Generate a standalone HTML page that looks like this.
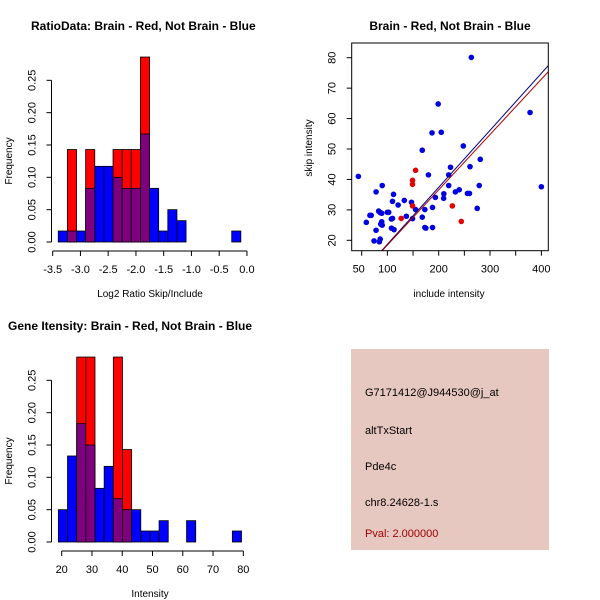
<!DOCTYPE html>
<html><head><meta charset="utf-8"><style>
body{margin:0;background:#fff}
svg{display:block;font-family:"Liberation Sans",Arial,sans-serif}
</style></head><body>
<svg id="s" width="600" height="600" viewBox="0 0 600 600">
<rect width="600" height="600" fill="#fff"/>
<g id="p1"></g>
<g id="p2"></g>
<g id="p3"></g>
<g>
<rect x="351" y="349" width="198" height="201" fill="#e6c8c0"/>
<text x="365" y="396" font-size="11">G7171412@J944530@j_at</text>
<text x="365" y="434" font-size="11">altTxStart</text>
<text x="365" y="470" font-size="11">Pde4c</text>
<text x="365" y="506" font-size="11">chr8.24628-1.s</text>
<text x="365" y="537" font-size="11" fill="#a00000">Pval: 2.000000</text>
</g>
</svg>
<script>
const NS="http://www.w3.org/2000/svg";
// Histogram 1 data
const h1Start=-3.4, h1Width=0.1645;
const h1Blue=[0.017,0.017,0.017,0.083,0.117,0.117,0.1,0.083,0.083,0.167,0.083,0.017,0.05,0.033,0,0,0,0,0,0.017];
const h1Red=[0,0.143,0,0.143,0,0,0.143,0.143,0.143,0.286,0,0,0,0,0,0,0,0,0,0];
const h1XTicks=[-3.5,-3.0,-2.5,-2.0,-1.5,-1.0,-0.5,0.0];
const h1XLabels=["-3.5","-3.0","-2.5","-2.0","-1.5","-1.0","-0.5","0.0"];
const yTicks=[0,0.05,0.10,0.15,0.20,0.25];
const yLabels=["0.00","0.05","0.10","0.15","0.20","0.25"];
// Histogram 2 data
const h2Start=18.9, h2Width=3.025;
const h2Blue=[0.05,0.133,0.183,0.15,0.083,0.117,0.067,0.05,0.05,0.017,0.017,0.033,0,0,0.033,0,0,0,0,0.017];
const h2Red=[0,0,0.286,0.286,0,0,0.286,0.143,0,0,0,0,0,0,0,0,0,0,0,0];
const h2XTicks=[20,30,40,50,60,70,80];
const h2XLabels=["20","30","40","50","60","70","80"];
// Scatter data
const blueX=[43.5,59,66,68.5,78,78,74,83,86,84.4,86,87,89,90,89,90,100,102.6,107.8,110,110,112,108,113,121,133,137,147,149,155,168,168,173,173,175,180,187,188,193.5,188,199,205,219.5,219.5,223,210,209.7,232.5,240,248,256,260,261,263.6,275,279,281,378,400];
const blueY=[41,25.9,28.2,28.2,35.9,23.3,19.8,29.6,29.1,19.5,20.4,25.3,26.1,25,28.9,38,29.2,29.2,27,27.2,32.8,35.1,24,23.5,31.6,33.1,27.9,32.5,27.1,30.1,49.6,27.6,30.1,24.2,24,41.5,55.3,30.8,34.1,24.2,64.8,55.5,41.5,38,44,35.3,33.8,35.9,36.6,51,35.4,35.4,44.2,80.1,30.5,38,46.6,62,37.6];
const redX=[127,149,149,155,149,226.6,244];
const redY=[27.2,39.7,38.4,43,31.3,31.3,26.2];
const blueFit=[-0.06,0.1873];
const redFit=[0.25,0.1817];
const sxTicks=[50,100,150,200,250,300,350,400];
const sxLabels=["50","100","","200","","300","","400"];
const syTicks=[20,30,40,50,60,70,80];
const syLabels=["20","30","40","50","60","70","80"];

function el(parent,tag,attrs){const e=document.createElementNS(NS,tag);for(const k in attrs)e.setAttribute(k,attrs[k]);parent.appendChild(e);return e;}
function txt(parent,x,y,s,attrs){const t=el(parent,"text",Object.assign({x:x,y:y,"font-size":11,"text-anchor":"middle"},attrs||{}));t.textContent=s;return t;}

function hist(g,o){
  const X=v=>o.x0+(v-o.v0)*o.kx, Y=v=>o.y0-v*o.ky;
  for(let i=0;i<o.blue.length;i++){
    const a=X(o.start+i*o.w), b=X(o.start+(i+1)*o.w);
    const bl=o.blue[i], rd=o.red[i];
    if(rd>0){const r=el(g,"rect",{x:a,y:Y(rd),width:b-a,height:Y(0)-Y(rd),fill:"#ff0000",stroke:"#000","stroke-width":0.8});
      
      }
    if(bl>0){
      const col=rd>0?"#7f007f":"#0000ff";
      const h=rd>0?Math.min(bl,rd):bl;
      const r=el(g,"rect",{x:a,y:Y(h),width:b-a,height:Y(0)-Y(h),fill:col,stroke:"#000","stroke-width":0.8});
      
      
      if(rd>0&&bl>rd){const r2=el(g,"rect",{x:a,y:Y(bl),width:b-a,height:Y(rd)-Y(bl),fill:"#0000ff",stroke:"#000","stroke-width":0.8});
        
        }
    }
  }
  const ax=el(g,"g",{});
  
  
  const ya=o.y0+9;
  el(ax,"line",{x1:X(o.xt[0]),x2:X(o.xt[o.xt.length-1]),y1:ya,y2:ya,stroke:"#000"});
  o.xt.forEach((v,i)=>{el(ax,"line",{x1:X(v),x2:X(v),y1:ya,y2:ya+5,stroke:"#000"});txt(ax,X(v),ya+22,o.xl[i]);});
  const ay=el(g,"g",{});
  
  
  const xa=o.x0v;
  el(ay,"line",{x1:xa,x2:xa,y1:Y(0),y2:Y(0.25),stroke:"#000"});
  yTicks.forEach((v,i)=>{el(ay,"line",{x1:xa,x2:xa-5,y1:Y(v),y2:Y(v),stroke:"#000"});txt(ay,xa-16,Y(v),yLabels[i],{transform:`rotate(-90 ${xa-16} ${Y(v)})`});});
  const t=txt(g,o.tx,30+o.oy,o.title,{"font-weight":"bold","font-size":12,"text-anchor":"start"});
  
  
  const xl=txt(g,150,297+o.oy,o.xlab,{"font-size":10});
  
  
  const yl=txt(g,12,161+o.oy,"Frequency",{"font-size":10,transform:`rotate(-90 12 ${161+o.oy})`});
  
  
}
hist(document.getElementById("p1"),{x0:52.7,v0:-3.5,kx:55.5,y0:242,ky:646.7,start:h1Start,w:h1Width,blue:h1Blue,red:h1Red,xt:h1XTicks,xl:h1XLabels,x0v:51.5,title:"RatioData: Brain - Red, Not Brain - Blue",tx:31,xlab:"Log2 Ratio Skip/Include",oy:0});
hist(document.getElementById("p3"),{x0:61.7,v0:20,kx:3.027,y0:542,ky:646.7,start:h2Start,w:h2Width,blue:h2Blue,red:h2Red,xt:h2XTicks,xl:h2XLabels,x0v:51.5,title:"Gene Itensity: Brain - Red, Not Brain - Blue",tx:8,xlab:"Intensity",oy:300});

// scatter
(function(){
  const g=document.getElementById("p2");
  const X=v=>361.7+(v-50)*0.5133, Y=v=>240.3-(v-20)*3.043;
  const L=351.7,R=548.3,T=43,B=250.7;
  const cp=el(g,"clipPath",{id:"clip"});el(cp,"rect",{x:L,y:T,width:R-L,height:B-T});
  const pts=el(g,"g",{});
  
  
  blueX.forEach((v,i)=>{const c=el(pts,"circle",{cx:X(v),cy:Y(blueY[i]),r:2.8,fill:"#0000e0"});
    
    });
  redX.forEach((v,i)=>{const c=el(pts,"circle",{cx:X(v),cy:Y(redY[i]),r:2.8,fill:"#e00000"});
    
    });
  [[blueFit,"#00008b","blue-fit-line"],[redFit,"#b00000","red-fit-line"]].forEach(([f,c,n])=>{
    const x1=20,x2=450;
    const l=el(g,"line",{x1:X(x1),x2:X(x2),y1:Y(f[0]+f[1]*x1),y2:Y(f[0]+f[1]*x2),stroke:c,"stroke-width":1,"clip-path":"url(#clip)"});
    
    });
  const box=el(g,"rect",{x:L,y:T,width:R-L,height:B-T,fill:"none",stroke:"#000"});
  
  
  const ax=el(g,"g",{});
  
  
  sxTicks.forEach((v,i)=>{el(ax,"line",{x1:X(v),x2:X(v),y1:B,y2:B+5,stroke:"#000"});if(sxLabels[i])txt(ax,X(v)-(v==50?3:0),B+22,sxLabels[i]);});
  const ay=el(g,"g",{});
  
  
  syTicks.forEach((v,i)=>{el(ay,"line",{x1:L,x2:L-5,y1:Y(v),y2:Y(v),stroke:"#000"});txt(ay,L-16,Y(v),syLabels[i],{transform:`rotate(-90 ${L-16} ${Y(v)})`});});
  const t=txt(g,450,30,"Brain - Red, Not Brain - Blue",{"font-weight":"bold","font-size":12});
  
  
  const xl=txt(g,449,297,"include intensity",{"font-size":10});
  
  
  const yl=txt(g,312,148,"skip intensity",{"font-size":10,transform:"rotate(-90 312 148)"});
  
  
})();
</script>
</body></html>
